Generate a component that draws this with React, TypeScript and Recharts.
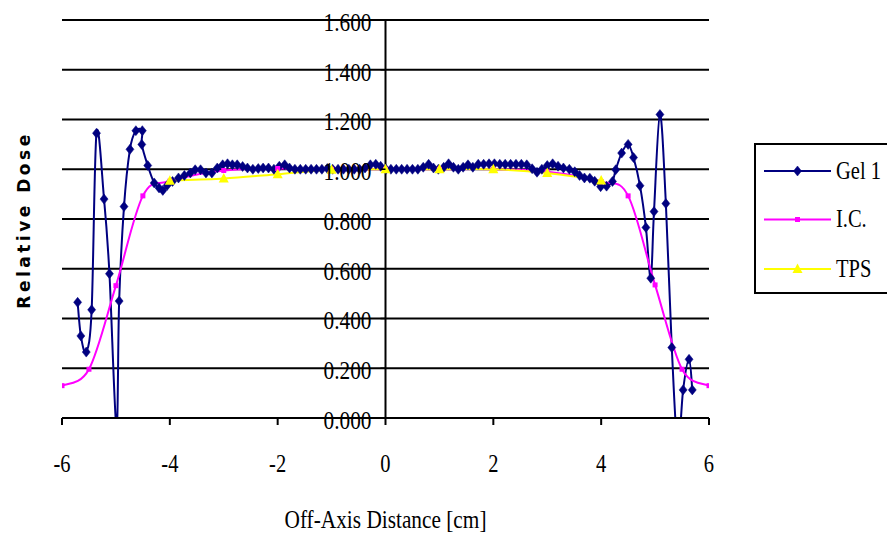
import React from 'react';
import { ComposedChart, Line, XAxis, YAxis, CartesianGrid, ReferenceLine } from 'recharts';

const W = 887;
const H = 534;
const Y_AXIS_W = 1;
const MARGIN = { top: 20, right: 178, bottom: 56, left: 61 };
const X_AXIS_H = 60;
const X_MIN = -6;
const X_MAX = 6;
const xTicks = [-6, -4, -2, 0, 2, 4, 6];
const yTicks = [0, 0.2, 0.4, 0.6, 0.8, 1.0, 1.2, 1.4, 1.6];

const NAVY = '#000080';
const MAGENTA = '#FF00FF';
const YELLOW = '#FFFF00';

// Gel 1 measured profile (rows of 10 x/y pairs, aligned)
const gelX = [
  -5.71, -5.65, -5.55, -5.45, -5.36, -5.22, -5.12, -4.99, -4.94, -4.85,
  -4.74, -4.63, -4.51, -4.52, -4.41, -4.29, -4.2, -4.13, -4.05, -3.95,
  -3.84, -3.73, -3.62, -3.53, -3.43, -3.33, -3.22, -3.12, -3.02, -2.93,
  -2.84, -2.75, -2.65, -2.56, -2.46, -2.36, -2.27, -2.17, -2.07, -1.97,
  -1.87, -1.78, -1.68, -1.58, -1.48, -1.38, -1.28, -1.18, -1.08, -0.98,
  -0.88, -0.78, -0.68, -0.58, -0.48, -0.38, -0.28, -0.18, -0.09, 0.01,
  0.1, 0.2, 0.3, 0.4, 0.5, 0.6, 0.7, 0.8, 0.89, 0.98,
  1.08, 1.17, 1.26, 1.35, 1.44, 1.53, 1.62, 1.72, 1.82, 1.92,
  2.02, 2.12, 2.22, 2.32, 2.42, 2.52, 2.62, 2.72, 2.81, 2.9,
  3.0, 3.1, 3.2, 3.3, 3.41, 3.51, 3.6, 3.69, 3.79, 3.88,
  3.99, 4.1, 4.21, 4.27, 4.38, 4.5, 4.6, 4.72, 4.83, 4.92,
  4.98, 5.09, 5.2, 5.31, 5.42, 5.52, 5.63, 5.69,
];
const gelY = [
  0.465, 0.33, 0.265, 0.435, 1.145, 0.88, 0.58, -0.04, 0.47, 0.85,
  1.08, 1.155, 1.155, 1.1, 1.015, 0.945, 0.925, 0.915, 0.935, 0.951,
  0.965, 0.975, 0.985, 0.998, 0.998, 0.985, 0.985, 1.005, 1.018, 1.022,
  1.018, 1.018, 1.011, 1.005, 1.0, 1.003, 1.005, 1.005, 1.0, 1.012,
  1.018, 1.005, 1.0, 1.0, 1.0, 1.0, 1.0, 1.0, 1.003, 1.0,
  1.0, 1.0, 1.0, 1.0, 1.0, 1.005, 1.018, 1.02, 1.012, 1.0,
  1.0, 1.0, 1.0, 1.0, 1.0, 1.0, 1.008, 1.02, 1.005, 1.0,
  1.008, 1.022, 1.008, 1.0, 1.008, 1.018, 1.008, 1.02, 1.02, 1.022,
  1.022, 1.02, 1.02, 1.02, 1.02, 1.02, 1.018, 1.002, 0.988, 1.0,
  1.015, 1.022, 1.012, 1.005, 1.0, 0.99, 0.975, 0.965, 0.964, 0.952,
  0.93, 0.932, 0.951, 0.998, 1.065, 1.1, 1.047, 0.934, 0.766, 0.562,
  0.83, 1.22, 0.862, 0.283, -0.12, 0.113, 0.236, 0.113,
];

// I.C. (ion chamber) profile
const icX = [-6, -5.5, -5, -4.5, -4, -3, -2, -1, 0, 1, 2, 3, 4, 4.5, 5, 5.5, 6];
const icY = [0.13, 0.196, 0.532, 0.893, 0.952, 0.995, 1.003, 1.0, 1.0, 1.0, 1.0, 0.99, 0.95, 0.893, 0.535, 0.196, 0.13];

// TPS profile
const tpsX = [-4, -3, -2, -1, 0, 1, 2, 3, 4];
const tpsY = [0.954, 0.963, 0.98, 0.998, 1.0, 1.0, 1.0, 0.985, 0.955];

const gelData = gelX.map((x, i) => ({ x, y: gelY[i] }));
const icData = icX.map((x, i) => ({ x, y: icY[i] }));
const tpsData = tpsX.map((x, i) => ({ x, y: tpsY[i] }));

const SERIES = [
  { name: 'Gel 1', color: NAVY, marker: 'diamond' },
  { name: 'I.C.', color: MAGENTA, marker: 'square' },
  { name: 'TPS', color: YELLOW, marker: 'triangle' },
];

const SERIF = '"Liberation Serif", "Times New Roman", serif';
const SQUEEZE = 0.82;

// Excel-like smoothed curve (Catmull-Rom through points)
function excelSmooth(context: any) {
  let pts: number[][] = [];
  return {
    areaStart() {},
    areaEnd() {},
    lineStart() {
      pts = [];
    },
    lineEnd() {
      if (!pts.length) return;
      context.moveTo(pts[0][0], pts[0][1]);
      for (let i = 0; i < pts.length - 1; i++) {
        const p0 = pts[Math.max(i - 1, 0)];
        const p1 = pts[i];
        const p2 = pts[i + 1];
        const p3 = pts[Math.min(i + 2, pts.length - 1)];
        context.bezierCurveTo(
          p1[0] + (p2[0] - p0[0]) / 6,
          p1[1] + (p2[1] - p0[1]) / 6,
          p2[0] - (p3[0] - p1[0]) / 6,
          p2[1] - (p3[1] - p1[1]) / 6,
          p2[0],
          p2[1]
        );
      }
    },
    point(x: number, y: number) {
      pts.push([+x, +y]);
    },
  };
}

function markerShape(kind: string, cx: number, cy: number, color: string, key?: any) {
  if (kind === 'diamond') {
    return <path key={key} d={`M${cx},${cy - 5}L${cx + 4},${cy}L${cx},${cy + 5}L${cx - 4},${cy}Z`} fill={color} stroke={color} strokeWidth={0.5} />;
  }
  if (kind === 'square') {
    return <rect key={key} x={cx - 2.5} y={cy - 2.5} width={5} height={5} fill={color} />;
  }
  return <path key={key} d={`M${cx},${cy - 5.5}L${cx + 5},${cy + 4}L${cx - 5},${cy + 4}Z`} fill={color} />;
}

const makeDot = (kind: string, color: string) => (p: any) => {
  if (p.cx == null || p.cy == null) return <g key={`e-${p.index}`} />;
  return markerShape(kind, p.cx, p.cy, color, `${kind}-${p.index}`);
};

const PLOT_LEFT = MARGIN.left + Y_AXIS_W;
const PLOT_W = W - PLOT_LEFT - MARGIN.right;
const AXIS_X = PLOT_LEFT + (PLOT_W * (0 - X_MIN)) / (X_MAX - X_MIN);

const squeezeStyle = (origin: string) => ({
  transform: `scaleX(${SQUEEZE})`,
  transformBox: 'fill-box' as any,
  transformOrigin: origin,
});

const YTick = (p: any) => {
  const v = p.payload.value as number;
  return (
    <g>
      <line x1={AXIS_X - 5} x2={AXIS_X} y1={p.y} y2={p.y} stroke="#000" strokeWidth={1.5} />
      <text
        x={AXIS_X - 14}
        y={p.y + 11}
        textAnchor="end"
        fontFamily={SERIF}
        fontSize={26}
        fill="#000"
        style={squeezeStyle('right center')}
      >
        {v.toFixed(3)}
      </text>
    </g>
  );
};

const XTick = (p: any) => (
  <text
    x={p.x}
    y={p.y + 45}
    textAnchor="middle"
    fontFamily={SERIF}
    fontSize={25}
    fill="#000"
    style={squeezeStyle('center')}
  >
    {String(p.payload.value)}
  </text>
);

const XTitle = (p: any) => {
  const vb = p.viewBox || {};
  return (
    <text
      x={vb.x + vb.width / 2}
      y={vb.y + 110}
      textAnchor="middle"
      fontFamily={SERIF}
      fontSize={26}
      fill="#000"
      style={squeezeStyle('center')}
    >
      Off-Axis Distance [cm]
    </text>
  );
};

const YTitle = () => (
  <text
    x={0}
    y={0}
    transform="translate(30,220) rotate(-90)"
    textAnchor="middle"
    fontFamily='"DejaVu Sans", sans-serif'
    fontWeight="bold"
    fontSize={17}
    letterSpacing={3.5}
    fill="#000"
  >
    Relative Dose
  </text>
);

const LEGEND_BOX = { x: 755, y: 144, w: 150, h: 149 };
const LEGEND_ROW_Y = [171, 219.5, 269];

export default function App() {
  return (
    <div style={{ position: 'absolute', left: 0, top: 0, width: W, height: H, overflow: 'hidden', background: '#fff' }}>
      <ComposedChart width={W} height={H} margin={MARGIN}>
        <CartesianGrid horizontal vertical={false} stroke="#000" strokeWidth={2} />
        <XAxis
          dataKey="x"
          type="number"
          domain={[X_MIN, X_MAX]}
          ticks={xTicks}
          allowDataOverflow
          height={X_AXIS_H}
          tickSize={7}
          tickLine={{ stroke: '#000', strokeWidth: 2 }}
          axisLine={{ stroke: '#000', strokeWidth: 2 }}
          tick={XTick}
          label={<XTitle />}
        />
        <YAxis
          type="number"
          domain={[0, 1.6]}
          ticks={yTicks}
          allowDataOverflow
          width={Y_AXIS_W}
          axisLine={false}
          tickLine={false}
          tick={YTick}
        />
        <ReferenceLine x={0} stroke="#000" strokeWidth={2} />
        <Line
          data={gelData}
          dataKey="y"
          name={SERIES[0].name}
          type={excelSmooth as any}
          stroke={NAVY}
          strokeWidth={2}
          dot={makeDot('diamond', NAVY)}
          activeDot={false}
          isAnimationActive={false}
        />
        <Line
          data={icData}
          dataKey="y"
          name={SERIES[1].name}
          type={excelSmooth as any}
          stroke={MAGENTA}
          strokeWidth={2}
          dot={makeDot('square', MAGENTA)}
          activeDot={false}
          isAnimationActive={false}
        />
        <Line
          data={tpsData}
          dataKey="y"
          name={SERIES[2].name}
          type={excelSmooth as any}
          stroke={YELLOW}
          strokeWidth={2}
          dot={makeDot('triangle', YELLOW)}
          activeDot={false}
          isAnimationActive={false}
        />
      </ComposedChart>
      <svg width={W} height={H} style={{ position: 'absolute', left: 0, top: 0, pointerEvents: 'none' }}>
        <YTitle />
        <rect x={LEGEND_BOX.x} y={LEGEND_BOX.y} width={LEGEND_BOX.w} height={LEGEND_BOX.h} fill="#fff" stroke="#000" strokeWidth={2} />
        {SERIES.map((s, i) => (
          <g key={s.name}>
            <line x1={764} x2={831} y1={LEGEND_ROW_Y[i]} y2={LEGEND_ROW_Y[i]} stroke={s.color} strokeWidth={2} />
            {markerShape(s.marker, 797.5, LEGEND_ROW_Y[i], s.color)}
            <text
              x={836}
              y={LEGEND_ROW_Y[i] + 8}
              fontFamily={SERIF}
              fontSize={25}
              fill="#000"
              style={squeezeStyle('left center')}
            >
              {s.name}
            </text>
          </g>
        ))}
      </svg>
    </div>
  );
}
